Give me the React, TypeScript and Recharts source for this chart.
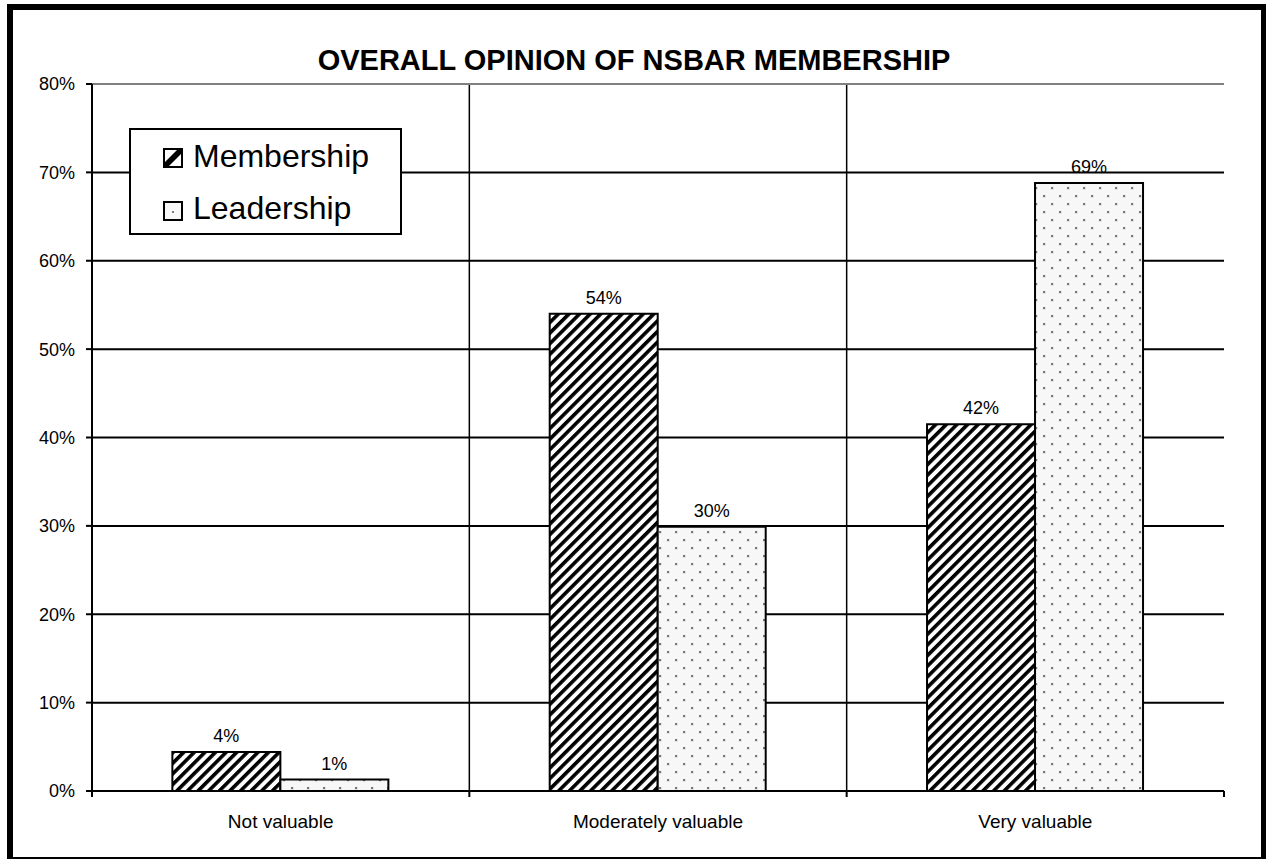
import React from 'react';
import { BarChart, Bar, XAxis, YAxis, CartesianGrid, ReferenceLine, LabelList, Legend } from 'recharts';

const categories = ['Not valuable', 'Moderately valuable', 'Very valuable'];
const membership = [0.044, 0.54, 0.415];
const leadership = [0.013, 0.299, 0.688];
const yTicks = [0, 0.1, 0.2, 0.3, 0.4, 0.5, 0.6, 0.7, 0.8];
const seriesNames = ['Membership', 'Leadership'];
const title = 'OVERALL OPINION OF NSBAR MEMBERSHIP';

const data = categories.map((c, i) => ({ category: c, membership: membership[i], leadership: leadership[i] }));

const FONT = '"Liberation Sans", Arial, sans-serif';
const pct = (v: number) => `${Math.round(v * 100)}%`;

const TICK_MARGIN = 24;

const XTick = (props: any) => {
  const { x, y, payload } = props;
  const half = payload && typeof payload.offset === 'number' ? payload.offset : 0;
  const axisY = y - TICK_MARGIN;
  const isLast = payload.value === categories[categories.length - 1];
  return (
    <g>
      <line x1={x - half} x2={x - half} y1={axisY} y2={axisY + 6} stroke="#000" strokeWidth={2} />
      {isLast && <line x1={x + half} x2={x + half} y1={axisY} y2={axisY + 6} stroke="#000" strokeWidth={2} />}
      <text x={x} y={y} dy="0.71em" textAnchor="middle" fontSize={19} fontFamily={FONT} fill="#000">
        {payload.value}
      </text>
    </g>
  );
};

const LegendBox = () => (
  <svg width={273} height={107} style={{ display: 'block' }}>
    <defs>
      <pattern id="lgDots" patternUnits="userSpaceOnUse" width={10} height={10}>
        <rect width={10} height={10} fill="#f8f8f8" />
        <rect x={3} y={3} width={2} height={2} fill="#808080" />
      </pattern>
    </defs>
    <rect x={1} y={1} width={271} height={105} fill="#fff" stroke="#000" strokeWidth={2} />
    <g>
      <rect x={35} y={21} width={18} height={18} fill="#fff" stroke="#000" strokeWidth={2} />
      <path d="M36 34 L48 22 L52 22 L52 26 L40 38 L36 38 Z" fill="#000" />
      <text x={64} y={39} fontSize={32} fontFamily={FONT} fill="#000">{seriesNames[0]}</text>
    </g>
    <g>
      <rect x={35} y={74} width={18} height={18} fill="url(#lgDots)" stroke="#000" strokeWidth={2} />
      <text x={64} y={91} fontSize={32} fontFamily={FONT} fill="#000">{seriesNames[1]}</text>
    </g>
  </svg>
);

export default function App() {
  return (
    <div style={{ position: 'absolute', left: 0, top: 0, width: 1266, height: 859, overflow: 'hidden', background: '#fff' }}>
      <div
        style={{
          position: 'absolute', left: 7, top: 4, width: 1260, height: 859,
          border: '6px solid #000', boxSizing: 'border-box',
        }}
      />
      <div style={{ position: 'absolute', left: 0, top: 0 }}>
        <BarChart
          width={1266}
          height={859}
          data={data}
          margin={{ top: 84, right: 42, bottom: 38, left: 0 }}
          barCategoryGap="21.3%"
          barGap={0}
        >
          <defs>
            <pattern id="stripes" patternUnits="userSpaceOnUse" width={7.5} height={7.5} patternTransform="rotate(45)">
              <rect width={7.5} height={7.5} fill="#fff" />
              <rect x={0} y={0} width={3.6} height={7.5} fill="#000" />
            </pattern>
            <pattern id="dots" patternUnits="userSpaceOnUse" width={16} height={16}>
              <rect width={16} height={16} fill="#f7f7f7" />
              <rect x={3} y={3} width={2.2} height={2.2} fill="#777" />
              <rect x={11} y={11} width={2.2} height={2.2} fill="#777" />
            </pattern>
          </defs>
          <text x={634} y={70} textAnchor="middle" fontSize={29} fontWeight="bold" fontFamily={FONT} fill="#000">
            {title}
          </text>
          <CartesianGrid
            vertical={false}
            horizontalValues={yTicks.slice(0, -1)}
            stroke="#000"
            strokeWidth={2}
            strokeDasharray=""
          />
          <CartesianGrid
            horizontal={false}
            stroke="#000"
            strokeWidth={1.5}
            verticalCoordinatesGenerator={({ offset }: any) =>
              categories.slice(1).map((_, i) => offset.left + ((i + 1) * offset.width) / categories.length)
            }
          />
          <ReferenceLine y={0.8} stroke="#808080" strokeWidth={2} />
          <XAxis
            dataKey="category"
            tickSize={0}
            tickMargin={TICK_MARGIN}
            tickLine={false}
            axisLine={{ stroke: '#000', strokeWidth: 2 }}
            tick={<XTick />}
            interval={0}
            height={30}
          />
          <YAxis
            domain={[0, 0.8]}
            ticks={yTicks}
            tickFormatter={pct}
            width={92}
            tickSize={6}
            tickMargin={11}
            axisLine={{ stroke: '#000', strokeWidth: 2 }}
            tickLine={{ stroke: '#000', strokeWidth: 2 }}
            tick={{ fontSize: 18, fontFamily: FONT, fill: '#000' }}
            interval={0}
          />
          <YAxis
            yAxisId="r"
            orientation="right"
            domain={[0, 0.8]}
            width={0}
            tick={false}
            tickLine={false}
            axisLine={{ stroke: '#808080', strokeWidth: 2 }}
          />
          <Legend
            layout="vertical"
            align="center"
            verticalAlign="middle"
            content={() => <LegendBox />}
            wrapperStyle={{ left: 129, top: 128, width: 273, height: 107 }}
          />
          <Bar dataKey="membership" name={seriesNames[0]} fill="url(#stripes)" stroke="#000" strokeWidth={2} isAnimationActive={false}>
            <LabelList dataKey="membership" position="top" offset={10} formatter={(v: any) => pct(Number(v))} fontSize={18} fontFamily={FONT} fill="#000" />
          </Bar>
          <Bar dataKey="leadership" name={seriesNames[1]} fill="url(#dots)" stroke="#000" strokeWidth={2} isAnimationActive={false}>
            <LabelList dataKey="leadership" position="top" offset={10} formatter={(v: any) => pct(Number(v))} fontSize={18} fontFamily={FONT} fill="#000" />
          </Bar>
        </BarChart>
      </div>
    </div>
  );
}
